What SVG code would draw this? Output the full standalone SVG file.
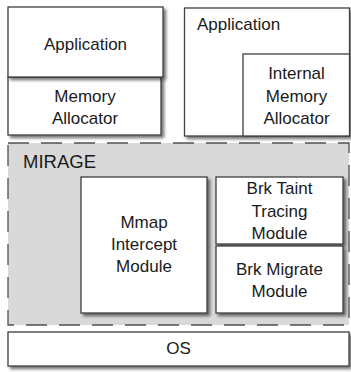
<svg xmlns="http://www.w3.org/2000/svg" width="351" height="372" viewBox="0 0 351 372">
  <defs>
    <filter id="shadow" x="-10%" y="-10%" width="130%" height="140%">
      <feDropShadow dx="2.5" dy="2.5" stdDeviation="1.8" flood-color="#000" flood-opacity="0.55"/>
    </filter>
  </defs>
  <style>
    .box { fill: #ffffff; stroke: #3f3f3f; stroke-width: 1.3; filter: url(#shadow); }
    .region { fill: #d9d9d9; stroke: #505050; stroke-width: 1.3; stroke-dasharray: 21 12; }
    .label { font-family: "Liberation Sans", Arial, sans-serif; font-size: 17px; fill: #1a1a1a; text-anchor: middle; }
    .title { font-family: "Liberation Sans", Arial, sans-serif; font-size: 18.5px; fill: #1a1a1a; }
  </style>

  <rect width="351" height="372" fill="#ffffff"/>

  <!-- MIRAGE layer -->
  <g id="mirage">
    <rect class="region" x="8" y="143" width="341" height="182"/>
    <text class="title" x="23" y="168">MIRAGE</text>
  </g>

  <!-- left stack: application with separate allocator -->
  <g id="memory-allocator">
    <rect class="box" x="8" y="77" width="153" height="58"/>
    <text class="label" x="85" y="102">Memory</text>
    <text class="label" x="85" y="123.5">Allocator</text>
  </g>
  <g id="application-left">
    <rect class="box" x="8" y="7" width="155" height="70"/>
    <text class="label" x="85.5" y="49.5">Application</text>
  </g>

  <!-- right stack: application with internal allocator -->
  <g id="application-right">
    <rect class="box" x="184.5" y="8" width="165" height="128"/>
    <text class="label" x="197" y="30" style="text-anchor:start">Application</text>
  </g>
  <g id="internal-allocator">
    <rect class="box" x="243" y="54" width="106.5" height="82" style="filter:none"/>
    <text class="label" x="296.5" y="79">Internal</text>
    <text class="label" x="296.5" y="102">Memory</text>
    <text class="label" x="296.5" y="123.5">Allocator</text>
  </g>

  <!-- MIRAGE modules -->
  <g id="mmap-intercept">
    <rect class="box" x="81" y="177" width="126" height="136"/>
    <text class="label" x="144" y="228">Mmap</text>
    <text class="label" x="144" y="249.5">Intercept</text>
    <text class="label" x="144" y="272">Module</text>
  </g>
  <g id="brk-taint">
    <rect class="box" x="216" y="177" width="127" height="67"/>
    <text class="label" x="279.5" y="193.5">Brk Taint</text>
    <text class="label" x="279.5" y="216.5">Tracing</text>
    <text class="label" x="279.5" y="238.5">Module</text>
  </g>
  <g id="brk-migrate">
    <rect class="box" x="216" y="246" width="127" height="67"/>
    <text class="label" x="279.5" y="274.5">Brk Migrate</text>
    <text class="label" x="279.5" y="297">Module</text>
  </g>

  <!-- operating system -->
  <g id="os">
    <rect class="box" x="8" y="332" width="341" height="34"/>
    <text class="label" x="178.5" y="354">OS</text>
  </g>

  <g id="connectors"></g>
</svg>
